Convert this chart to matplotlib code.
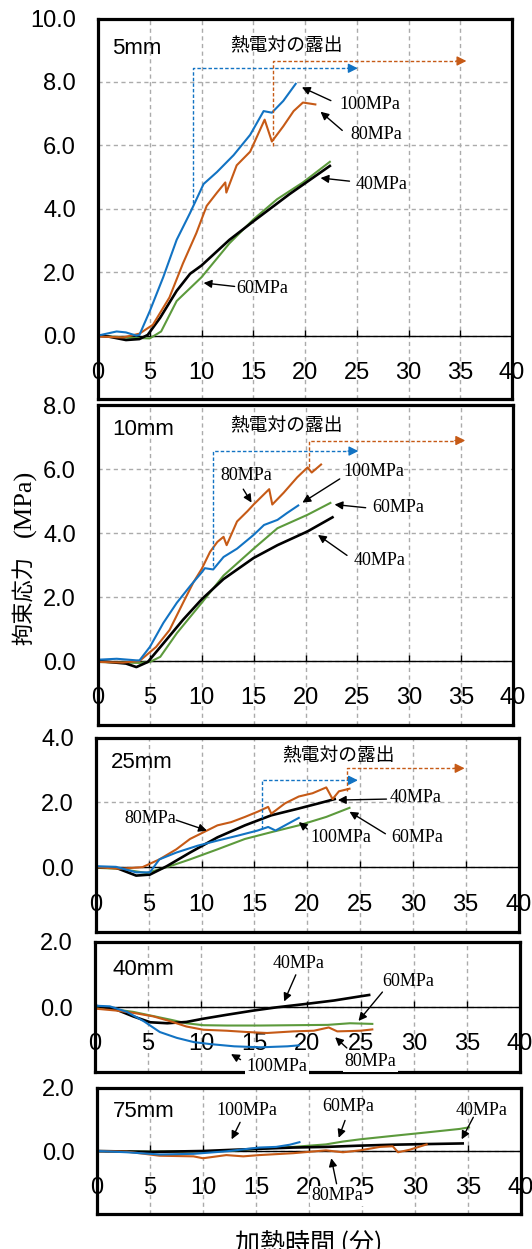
import matplotlib
matplotlib.use("Agg")
import matplotlib.pyplot as plt

plt.rcParams['font.family'] = ['Liberation Sans', 'Noto Sans CJK JP']

# ---- 5mm ----
t5_40 = [0, 1.0, 2.7, 4.0, 4.8, 6.0, 7.6, 8.9, 10.0, 12.7, 15.0, 18.5, 22.4]
s5_40 = [0, -0.03, -0.14, -0.11, 0.02, 0.56, 1.41, 1.95, 2.21, 3.02, 3.6, 4.46, 5.35]
t5_60 = [0, 2.4, 5.0, 6.1, 7.6, 10.0, 12.7, 15.0, 17.3, 19.8, 22.4]
s5_60 = [0, -0.06, -0.09, 0.13, 1.09, 1.84, 2.91, 3.66, 4.3, 4.83, 5.48]
t5_80 = [0, 2.4, 4.0, 5.3, 6.9, 8.2, 9.5, 10.5, 11.5, 12.3, 12.4, 13.4, 14.7, 16.1, 16.8, 17.9, 18.9, 19.8, 21.0]
s5_80 = [-0.03, -0.06, 0.06, 0.34, 1.2, 2.27, 3.23, 4.09, 4.51, 4.83, 4.51, 5.37, 5.8, 6.81, 6.12, 6.6, 7.08, 7.35, 7.29]
t5_100 = [0, 1.8, 2.7, 3.7, 4.0, 5.0, 6.3, 7.6, 8.9, 10.2, 11.5, 13.1, 14.7, 16.0, 16.8, 17.9, 19.1]
s5_100 = [0, 0.13, 0.1, 0, 0.02, 0.77, 1.84, 3.02, 3.87, 4.78, 5.16, 5.69, 6.33, 7.08, 7.03, 7.4, 7.94]
exp5_t = [9.2, 16.9]       # 100MPa, 80MPa
exp5_s = [4.17, 5.99]

# ---- 10mm ----
t10_40 = [0, 2.7, 3.7, 4.8, 6.3, 8.2, 10.0, 12.1, 15.0, 17.3, 20.2, 22.6]
s10_40 = [0, -0.08, -0.19, -0.03, 0.55, 1.29, 1.93, 2.56, 3.22, 3.62, 4.05, 4.49]
t10_60 = [0, 4.0, 5.0, 6.0, 7.6, 10.0, 12.1, 15.0, 17.3, 20.2, 22.4]
s10_60 = [-0.03, -0.06, -0.03, 0.13, 0.87, 1.82, 2.67, 3.51, 4.15, 4.57, 4.94]
t10_80 = [0, 2.4, 4.0, 5.6, 6.9, 8.2, 9.2, 10.0, 10.8, 11.5, 12.1, 12.4, 13.4, 14.4, 15.0, 16.5, 16.8, 17.9, 19.2, 20.2, 20.6, 21.5]
s10_80 = [-0.03, -0.05, 0, 0.44, 0.97, 1.82, 2.46, 2.88, 3.41, 3.72, 3.88, 3.62, 4.36, 4.68, 4.89, 5.37, 4.89, 5.26, 5.74, 6.05, 5.89, 6.14]
t10_100 = [0, 1.8, 3.7, 4.0, 5.0, 6.3, 7.6, 8.9, 10.0, 10.3, 11.1, 12.1, 13.4, 15.0, 16.0, 17.3, 18.2, 19.3]
s10_100 = [0.04, 0.07, 0.02, 0.02, 0.44, 1.19, 1.82, 2.35, 2.77, 2.9, 2.86, 3.25, 3.51, 3.94, 4.25, 4.41, 4.62, 4.86]
exp10_t = [11.1, 20.3]
exp10_s = [2.98, 6.06]

# ---- 25mm ----
t25_40 = [0, 1.9, 3.8, 5.1, 6.7, 8.9, 11.5, 14.1, 16.6, 19.2, 21.1, 22.6]
s25_40 = [0, -0.02, -0.26, -0.23, 0.03, 0.45, 0.92, 1.29, 1.6, 1.81, 1.97, 2.1]
t25_60 = [0, 2.2, 4.8, 7.0, 8.9, 11.5, 14.1, 16.6, 19.2, 21.8, 24.0]
s25_60 = [-0.02, -0.05, -0.18, 0.03, 0.24, 0.55, 0.87, 1.08, 1.29, 1.55, 1.83]
t25_80 = [0, 2.2, 4.4, 6.0, 7.6, 8.9, 10.2, 11.5, 12.8, 14.1, 15.3, 16.3, 16.6, 17.9, 19.2, 20.5, 21.8, 22.4, 23.0, 24.0]
s25_80 = [0, -0.05, 0, 0.24, 0.55, 0.87, 1.08, 1.29, 1.39, 1.55, 1.71, 1.86, 1.65, 1.97, 2.18, 2.28, 2.46, 2.1, 2.34, 2.42]
t25_100 = [0, 1.9, 3.8, 5.1, 6.0, 7.6, 9.6, 11.5, 13.4, 15.3, 16.3, 17.0, 17.9, 19.2]
s25_100 = [0.03, 0.01, -0.16, -0.16, 0.24, 0.45, 0.66, 0.82, 0.97, 1.13, 1.24, 1.13, 1.29, 1.52]
exp25_t = [15.7, 23.8]
exp25_s = [1.18, 2.34]

# ---- 40mm ----
t40_40 = [0, 2.0, 3.6, 5.2, 6.8, 8.6, 10.2, 12.4, 14.9, 17.1, 20.0, 22.5, 25.0, 25.8]
s40_40 = [0.04, -0.08, -0.29, -0.47, -0.5, -0.46, -0.36, -0.24, -0.11, -0.01, 0.1, 0.2, 0.33, 0.37]
t40_60 = [0, 2.0, 3.6, 5.2, 7.1, 8.6, 10.2, 12.4, 15.6, 18.7, 21.9, 24.0, 26.1]
s40_60 = [0, -0.08, -0.15, -0.26, -0.39, -0.5, -0.56, -0.57, -0.57, -0.56, -0.55, -0.5, -0.52]
t40_80 = [0, 2.0, 3.6, 5.5, 7.1, 8.6, 10.2, 12.4, 14.3, 16.2, 18.7, 20.6, 22.0, 22.8, 25.0, 26.1]
s40_80 = [-0.05, -0.11, -0.18, -0.29, -0.44, -0.6, -0.7, -0.73, -0.77, -0.8, -0.75, -0.73, -0.63, -0.75, -0.73, -0.69]
t40_100 = [0, 1.4, 3.0, 4.6, 6.1, 7.7, 9.3, 10.8, 13.1, 15.6, 18.1, 19.2]
s40_100 = [0.04, 0.02, -0.15, -0.44, -0.77, -0.95, -1.08, -1.14, -1.21, -1.24, -1.21, -1.18]

# ---- 75mm ----
t75_40 = [0, 5.0, 10.0, 12.2, 15.3, 18.5, 21.6, 24.8, 27.9, 31.1, 34.5]
s75_40 = [0, -0.03, 0, 0.03, 0.07, 0.11, 0.13, 0.17, 0.2, 0.22, 0.24]
t75_60 = [0, 5.0, 10.0, 12.2, 15.3, 18.5, 21.6, 23.2, 24.8, 27.9, 31.1, 34.2, 35.1]
s75_60 = [0, -0.02, -0.01, 0, 0.07, 0.13, 0.21, 0.3, 0.37, 0.48, 0.59, 0.7, 0.75]
t75_80 = [0, 2.8, 5.9, 9.1, 10.0, 12.2, 13.8, 15.3, 18.5, 21.6, 23.2, 24.8, 26.7, 27.9, 28.4, 29.5, 31.1]
s75_80 = [0, -0.02, -0.15, -0.17, -0.23, -0.13, -0.17, -0.13, -0.07, 0.02, -0.04, 0.02, 0.13, 0.15, -0.04, 0.04, 0.21]
t75_100 = [0, 2.8, 5.9, 9.1, 12.2, 15.3, 16.9, 18.2, 19.1]
s75_100 = [0, -0.04, -0.11, -0.09, -0.01, 0.11, 0.13, 0.2, 0.28]

C40 = 'black'
C60 = '#5C9A3C'
C80 = '#C65A16'
C100 = '#1273C3'

W, H = 532, 1249
fig = plt.figure(figsize=(W / 100, H / 100), dpi=100)


def make_axes(left, right, top, bottom, ylo, yhi):
    ax = fig.add_axes([left / W, 1 - bottom / H, (right - left) / W, (bottom - top) / H])
    ax.set_xlim(0, 40)
    ax.set_ylim(ylo, yhi)
    ax.set_xticks(range(0, 41, 5))
    yt = list(range(ylo, yhi + 1, 2))
    ax.set_yticks(yt)
    ax.set_yticklabels([''] + ['%.1f' % v for v in yt[1:]])
    ax.tick_params(axis='x', bottom=False, labelbottom=False)
    ax.tick_params(axis='y', length=0, pad=16, labelsize=17)
    ax.grid(True, color='#ABABAB', lw=1, ls=(0, (3, 2.5)))
    for sp in ax.spines.values():
        sp.set_linewidth(2.3)
    # x axis crossing at 0, labels under it
    sec = ax.secondary_xaxis(-ylo / (yhi - ylo))
    sec.set_alignment('bottom')
    sec.set_zorder(1.9)
    sec.set_xticks(range(0, 41, 5))
    sec.tick_params(direction='in', length=4, width=1, pad=19, labelsize=17)
    sec.spines['bottom'].set_linewidth(1)
    return ax


def curves(ax, t40, s40, t60, s60, t80, s80, t100, s100):
    ax.plot(t60, s60, color=C60, lw=1.5)
    ax.plot(t40, s40, color=C40, lw=1.9)
    ax.plot(t80, s80, color=C80, lw=1.5)
    ax.plot(t100, s100, color=C100, lw=1.5)


def exposure(ax, x0, y0, y1, x1, color):
    ax.plot([x0, x0, x1 - 1.0], [y0, y1, y1], color=color, lw=1, ls=(0, (2.5, 1.5)))
    ax.annotate('', xy=(x1, y1), xytext=(x1 - 1.0, y1),
                arrowprops=dict(arrowstyle='-|>', color=color, lw=1,
                                mutation_scale=14, shrinkA=0, shrinkB=0))


def tag(ax, text, txy, tail, tip, white=False):
    ax.annotate('', xy=tip, xytext=tail,
                arrowprops=dict(arrowstyle='-|>', color='black', lw=1,
                                mutation_scale=12, shrinkA=0, shrinkB=0))
    bbox = dict(facecolor='white', edgecolor='none', pad=1) if white else None
    ax.text(txy[0], txy[1], text, ha='center', va='center', fontsize=13,
            family='Liberation Serif', bbox=bbox, zorder=5)


def header(ax, name, nx, ny, ex, ey):
    ax.text(nx, ny, name, ha='left', va='center', fontsize=16)
    if ex is not None:
        ax.text(ex, ey, '熱電対の露出', ha='center', va='center', fontsize=13.5,
                family='Noto Sans CJK JP')


# 5mm
ax1 = make_axes(98, 512, 18.5, 399, -2, 10)
curves(ax1, t5_40, s5_40, t5_60, s5_60, t5_80, s5_80, t5_100, s5_100)
exposure(ax1, exp5_t[0], exp5_s[0], 8.43, 25.1, C100)
exposure(ax1, exp5_t[1], exp5_s[1], 8.66, 35.6, C80)
header(ax1, '5mm', 1.37, 9.04, 18.2, 9.14)
tag(ax1, '100MPa', (26.25, 7.3), (22.5, 7.41), (19.7, 7.83))
tag(ax1, '80MPa', (26.9, 6.33), (23.6, 6.47), (21.5, 7.06))
tag(ax1, '40MPa', (27.4, 4.76), (24.3, 4.87), (21.5, 4.97))
tag(ax1, '60MPa', (15.9, 1.5), (13.2, 1.55), (10.2, 1.66))

# 10mm
ax2 = make_axes(98, 513, 405, 725, -2, 8)
curves(ax2, t10_40, s10_40, t10_60, s10_60, t10_80, s10_80, t10_100, s10_100)
exposure(ax2, exp10_t[0], exp10_s[0], 6.56, 25.1, C100)
exposure(ax2, exp10_t[1], exp10_s[1], 6.89, 35.4, C80)
header(ax2, '10mm', 1.4, 7.23, 18.2, 7.34)
tag(ax2, '80MPa', (14.3, 5.8), (14.0, 5.37), (14.8, 4.95))
tag(ax2, '100MPa', (26.6, 5.93), (23.3, 5.69), (19.7, 4.95))
tag(ax2, '60MPa', (28.9, 4.81), (25.8, 4.79), (22.8, 4.89))
tag(ax2, '40MPa', (27.1, 3.14), (24.0, 3.3), (21.2, 3.94))

# 25mm
ax3 = make_axes(96, 518.5, 737.5, 932, -2, 4)
curves(ax3, t25_40, s25_40, t25_60, s25_60, t25_80, s25_80, t25_100, s25_100)
exposure(ax3, exp25_t[0], exp25_s[0], 2.68, 24.8, C100)
exposure(ax3, exp25_t[1], exp25_s[1], 3.05, 34.9, C80)
header(ax3, '25mm', 1.4, 3.22, 23.0, 3.43)
tag(ax3, '80MPa', (5.1, 1.5), (7.6, 1.45), (10.5, 1.13))
tag(ax3, '40MPa', (30.3, 2.15), (27.5, 2.1), (22.9, 2.07))
tag(ax3, '100MPa', (23.2, 0.92), (20.0, 1.18), (19.2, 1.39))
tag(ax3, '60MPa', (30.4, 0.92), (27.4, 1.03), (24.0, 1.71))

# 40mm
ax4 = make_axes(95, 520, 942, 1072, -2, 2)
curves(ax4, t40_40, s40_40, t40_60, s40_60, t40_80, s40_80, t40_100, s40_100)
header(ax4, '40mm', 1.67, 1.15, None, None)
tag(ax4, '40MPa', (19.2, 1.35), (18.9, 0.99), (17.8, 0.17))
tag(ax4, '60MPa', (29.45, 0.8), (27.05, 0.46), (24.8, -0.43))
tag(ax4, '100MPa', (17.1, -1.84), (13.7, -1.62), (12.8, -1.45), white=True)
tag(ax4, '80MPa', (25.9, -1.68), (23.7, -1.26), (22.6, -0.93), white=True)

# 75mm
ax5 = make_axes(97, 521, 1088, 1214, -2, 2)
curves(ax5, t75_40, s75_40, t75_60, s75_60, t75_80, s75_80, t75_100, s75_100)
header(ax5, '75mm', 1.5, 1.24, None, None)
tag(ax5, '100MPa', (14.1, 1.29), (13.5, 0.91), (12.7, 0.37))
tag(ax5, '60MPa', (23.7, 1.4), (23.4, 0.97), (22.8, 0.42))
tag(ax5, '40MPa', (36.3, 1.29), (35.5, 1.07), (34.4, 0.37))
tag(ax5, '80MPa', (22.7, -1.42), (22.6, -1.04), (22.1, -0.23), white=True)

# axis titles
fig.text(309 / W, 1 - 1243 / H, '加熱時間 (分)', ha='center', va='center',
         fontsize=18, family='Noto Sans CJK JP')
fig.text(25 / W, 1 - 600 / H, '拘束応力', ha='center', va='center', rotation=90,
         fontsize=16, family='Noto Sans CJK JP')
fig.text(25 / W, 1 - 503 / H, '(MPa)', ha='center', va='center', rotation=90,
         fontsize=19, family='Liberation Serif')

fig.savefig('out.png', dpi=100)
